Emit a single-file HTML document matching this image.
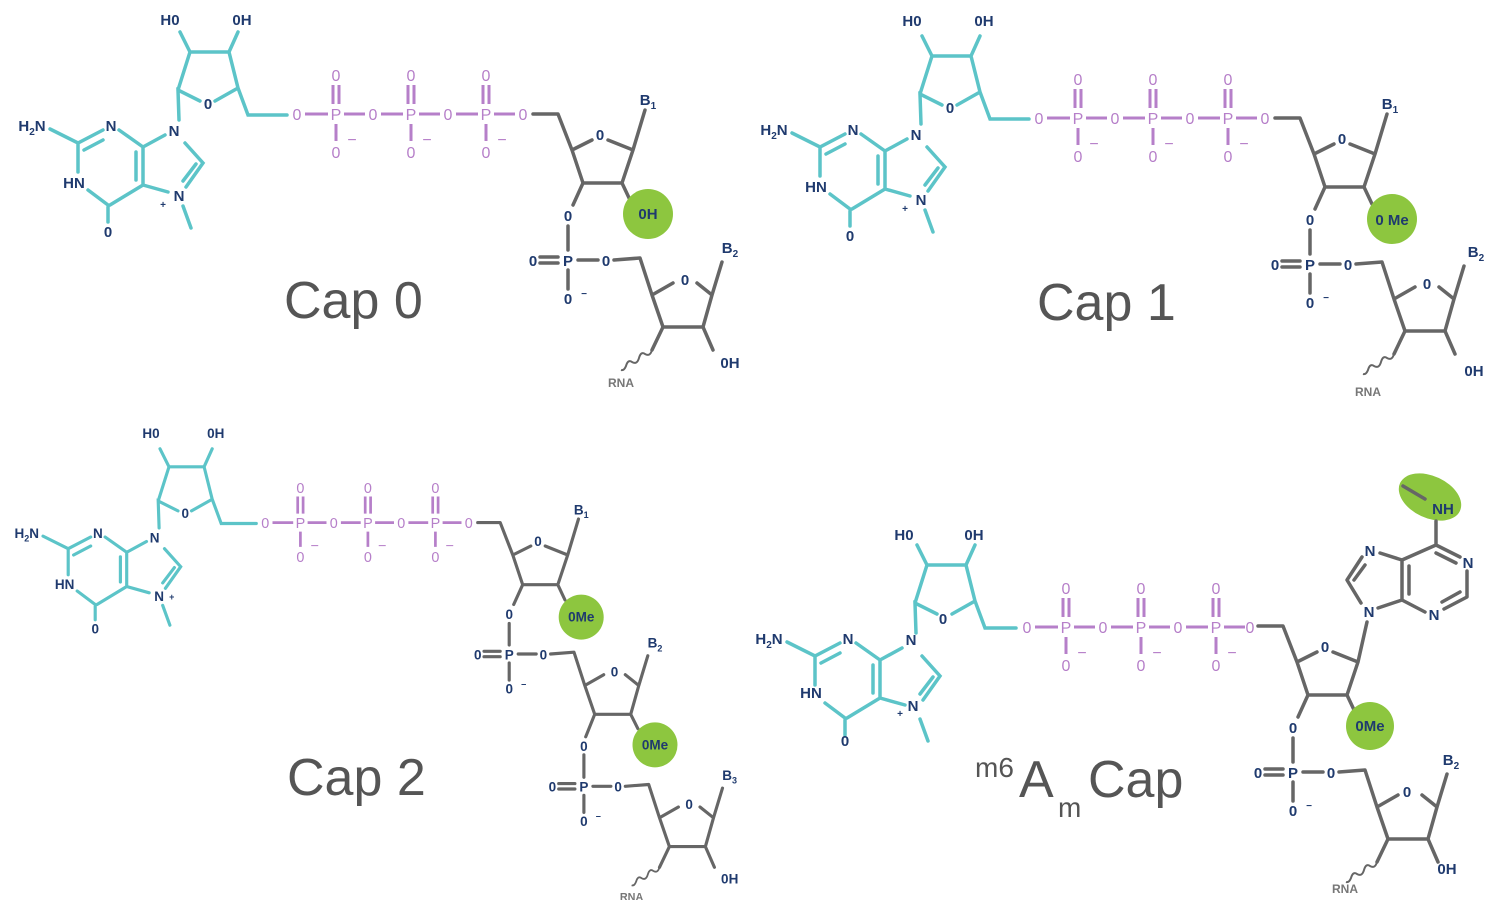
<!DOCTYPE html>
<html><head><meta charset="utf-8"><style>
html,body{margin:0;padding:0;background:#fff;}
svg{display:block;}
.t{fill:none;stroke:#5cc4c8;stroke-width:3.5;stroke-linecap:round;}
.p{fill:none;stroke:#b67fc9;stroke-width:3;stroke-linecap:butt;}
.g{fill:none;stroke:#666;stroke-width:3.5;stroke-linecap:round;stroke-linejoin:round;}
.gw{fill:none;stroke:#666;stroke-width:2;}
text{font-family:"Liberation Sans",sans-serif;font-weight:bold;text-anchor:middle;}
.n{fill:#1f3a6e;font-size:15px;}
.pl{fill:#b67fc9;font-size:16px;font-weight:normal;}
.r{fill:#777;font-size:12px;}
.big{fill:#555;font-size:52px;font-weight:normal;text-anchor:start;}
.sm{font-size:10px;}
</style></head><body>
<svg width="1500" height="900" viewBox="0 0 1500 900" xmlns="http://www.w3.org/2000/svg">

<!-- ================= CAP 0 ================= -->
<g>
<path class="t" d="M50,129 L78,143 L103,130 M84,150 L103,140 M119,130 L143,147 L165,135 M185,143 L203,163 L186,187 M196,164 L183,181 M143,147 L143,185 M136,152 L136,180 M143,185 L110,205 M108,207 L108,222 M108,205 L88,190 M78,172 L78,143 M143,185 L168,192 M183,206 L191,228 M179,120 L178,90 L200,101 M215,101 L238,88 L229,52 L190,52 L178,90 M190,52 L180,32 M229,52 L238,32 M238,88 L248,115 L287,115"/>
<text class="n" x="170" y="25">H0</text><text class="n" x="242" y="25">0H</text><text class="n" x="208" y="109">0</text>
<text class="n" x="111" y="131">N</text><text class="n" x="174" y="136">N</text><text class="n" x="74" y="188">HN</text><text class="n" x="108" y="237">0</text><text class="n" x="179" y="201">N</text><text class="n sm" x="163" y="208">+</text>
<text class="n" x="32" y="131">H<tspan class="sm" dy="4">2</tspan><tspan dy="-4">N</tspan></text>
<path class="p" d="M305,114 H328 M344,114 H365 M381,114 H403 M419,114 H440 M456,114 H478 M494,114 H515 M333,85 V104 M339,85 V104 M336,124 V141 M408,85 V104 M414,85 V104 M411,124 V141 M483,85 V104 M489,85 V104 M486,124 V141"/>
<text class="pl" x="297" y="120">0</text><text class="pl" x="336" y="120">P</text><text class="pl" x="373" y="120">0</text><text class="pl" x="411" y="120">P</text><text class="pl" x="448" y="120">0</text><text class="pl" x="486" y="120">P</text><text class="pl" x="523" y="120">0</text>
<text class="pl" x="336" y="81">0</text><text class="pl" x="411" y="81">0</text><text class="pl" x="486" y="81">0</text>
<text class="pl" x="336" y="158">0</text><text class="pl" x="411" y="158">0</text><text class="pl" x="486" y="158">0</text>
<text class="pl" x="352" y="145">−</text><text class="pl" x="427" y="145">−</text><text class="pl" x="502" y="145">−</text>
<path class="g" d="M533,114 H558 L572,150 L592,140 M608,140 L633,150 L622,183 L583,183 L572,150 M633,150 L645,110 M622,183 L630,200 M583,183 L573,205 M568,226 V250"/>
<text class="n" x="600" y="140">0</text><text class="n" x="648" y="105">B<tspan class="sm" dy="4">1</tspan></text><text class="n" x="568" y="221">0</text>
<circle cx="648" cy="214" r="25" fill="#8dc63f"/><text class="n" x="648" y="219">0H</text>
<path class="g" d="M540,257 H558 M540,263 H558 M578,260 H598 M614,260 L640,258 L652,295 L673,283 M697,283 L712,295 L703,327 L663,327 L652,295 M712,295 L722,262 M568,270 V289"/>
<text class="n" x="568" y="266">P</text><text class="n" x="533" y="266">0</text><text class="n" x="606" y="266">0</text><text class="n" x="568" y="304">0</text><text class="n sm" x="584" y="297">−</text><text class="n" x="685" y="285">0</text><text class="n" x="730" y="253">B<tspan class="sm" dy="4">2</tspan></text>
<path class="g" d="M703,327 L713,350 M663,327 L652,350"/>
<path class="gw" d="M652,350 q-2,7 -7,4 q-4,-3 -6,4 q-2,7 -7,4 q-4,-3 -6,4 q-2,5 -5,4"/>
<text class="n" x="730" y="368">0H</text><text class="r" x="621" y="387">RNA</text>
<text class="big" x="284" y="318">Cap 0</text>
</g>

<!-- ================= CAP 1 ================= -->
<g transform="translate(742,4)">
<path class="t" d="M50,129 L78,143 L103,130 M84,150 L103,140 M119,130 L143,147 L165,135 M185,143 L203,163 L186,187 M196,164 L183,181 M143,147 L143,185 M136,152 L136,180 M143,185 L110,205 M108,207 L108,222 M108,205 L88,190 M78,172 L78,143 M143,185 L168,192 M183,206 L191,228 M179,120 L178,90 L200,101 M215,101 L238,88 L229,52 L190,52 L178,90 M190,52 L180,32 M229,52 L238,32 M238,88 L248,115 L287,115"/>
<text class="n" x="170" y="22">H0</text><text class="n" x="242" y="22">0H</text><text class="n" x="208" y="109">0</text>
<text class="n" x="111" y="131">N</text><text class="n" x="174" y="136">N</text><text class="n" x="74" y="188">HN</text><text class="n" x="108" y="237">0</text><text class="n" x="179" y="201">N</text><text class="n sm" x="163" y="208">+</text>
<text class="n" x="32" y="131">H<tspan class="sm" dy="4">2</tspan><tspan dy="-4">N</tspan></text>
<path class="p" d="M305,114 H328 M344,114 H365 M381,114 H403 M419,114 H440 M456,114 H478 M494,114 H515 M333,85 V104 M339,85 V104 M336,124 V141 M408,85 V104 M414,85 V104 M411,124 V141 M483,85 V104 M489,85 V104 M486,124 V141"/>
<text class="pl" x="297" y="120">0</text><text class="pl" x="336" y="120">P</text><text class="pl" x="373" y="120">0</text><text class="pl" x="411" y="120">P</text><text class="pl" x="448" y="120">0</text><text class="pl" x="486" y="120">P</text><text class="pl" x="523" y="120">0</text>
<text class="pl" x="336" y="81">0</text><text class="pl" x="411" y="81">0</text><text class="pl" x="486" y="81">0</text>
<text class="pl" x="336" y="158">0</text><text class="pl" x="411" y="158">0</text><text class="pl" x="486" y="158">0</text>
<text class="pl" x="352" y="145">−</text><text class="pl" x="427" y="145">−</text><text class="pl" x="502" y="145">−</text>
<path class="g" d="M533,114 H558 L572,150 L592,140 M608,140 L633,150 L622,183 L583,183 L572,150 M633,150 L645,110 M622,183 L630,200 M583,183 L573,205 M568,226 V250"/>
<text class="n" x="600" y="140">0</text><text class="n" x="648" y="105">B<tspan class="sm" dy="4">1</tspan></text><text class="n" x="568" y="221">0</text>
<circle cx="650" cy="215" r="25" fill="#8dc63f"/><text class="n" x="650" y="221">0 Me</text>
<path class="g" d="M540,257 H558 M540,263 H558 M578,260 H598 M614,260 L640,258 L652,295 L673,283 M697,283 L712,295 L703,327 L663,327 L652,295 M712,295 L722,262 M568,270 V289"/>
<text class="n" x="568" y="266">P</text><text class="n" x="533" y="266">0</text><text class="n" x="606" y="266">0</text><text class="n" x="568" y="304">0</text><text class="n sm" x="584" y="297">−</text><text class="n" x="685" y="285">0</text><text class="n" x="734" y="253">B<tspan class="sm" dy="4">2</tspan></text>
<path class="g" d="M703,327 L713,350 M663,327 L652,350"/>
<path class="gw" d="M652,350 q-2,7 -7,4 q-4,-3 -6,4 q-2,7 -7,4 q-4,-3 -6,4 q-2,5 -5,4"/>
<text class="n" x="732" y="372">0H</text><text class="r" x="626" y="392">RNA</text>
</g>
<text class="big" x="1037" y="320">Cap 1</text>

<!-- ================= CAP 2 ================= -->
<g transform="translate(-2,420) scale(0.9)">
<path class="t" d="M50,129 L78,143 L103,130 M84,150 L103,140 M119,130 L143,147 L165,135 M185,143 L203,163 L186,187 M196,164 L183,181 M143,147 L143,185 M136,152 L136,180 M143,185 L110,205 M108,207 L108,222 M108,205 L88,190 M78,172 L78,143 M143,185 L168,192 M183,206 L191,228 M179,120 L178,90 L200,101 M215,101 L238,88 L229,52 L190,52 L178,90 M190,52 L180,32 M229,52 L238,32 M238,88 L248,115 L287,115"/>
<text class="n" x="170" y="20">H0</text><text class="n" x="242" y="20">0H</text><text class="n" x="208" y="109">0</text>
<text class="n" x="111" y="131">N</text><text class="n" x="174" y="136">N</text><text class="n" x="74" y="188">HN</text><text class="n" x="108" y="237">0</text><text class="n" x="179" y="201">N</text><text class="n sm" x="193" y="200">+</text>
<text class="n" x="32" y="131">H<tspan class="sm" dy="4">2</tspan><tspan dy="-4">N</tspan></text>
<path class="p" d="M305,114 H328 M344,114 H365 M381,114 H403 M419,114 H440 M456,114 H478 M494,114 H515 M333,85 V104 M339,85 V104 M336,124 V141 M408,85 V104 M414,85 V104 M411,124 V141 M483,85 V104 M489,85 V104 M486,124 V141"/>
<text class="pl" x="297" y="120">0</text><text class="pl" x="336" y="120">P</text><text class="pl" x="373" y="120">0</text><text class="pl" x="411" y="120">P</text><text class="pl" x="448" y="120">0</text><text class="pl" x="486" y="120">P</text><text class="pl" x="523" y="120">0</text>
<text class="pl" x="336" y="81">0</text><text class="pl" x="411" y="81">0</text><text class="pl" x="486" y="81">0</text>
<text class="pl" x="336" y="158">0</text><text class="pl" x="411" y="158">0</text><text class="pl" x="486" y="158">0</text>
<text class="pl" x="352" y="145">−</text><text class="pl" x="427" y="145">−</text><text class="pl" x="502" y="145">−</text>
<path class="g" d="M533,114 H558 L572,150 L592,140 M608,140 L633,150 L622,183 L583,183 L572,150 M633,150 L645,110 M622,183 L630,200 M583,183 L573,205 M568,226 V250"/>
<text class="n" x="600" y="140">0</text><text class="n" x="648" y="105">B<tspan class="sm" dy="4">1</tspan></text><text class="n" x="568" y="221">0</text>
<circle cx="648" cy="219" r="25" fill="#8dc63f"/><text class="n" x="648" y="224">0Me</text>
<path class="g" d="M540,257 H558 M540,263 H558 M578,260 H598 M614,260 L640,258 L652,295 L673,283 M697,283 L712,295 L703,327 L663,327 L652,295 M712,295 L722,262 M568,270 V289"/>
<text class="n" x="568" y="266">P</text><text class="n" x="533" y="266">0</text><text class="n" x="606" y="266">0</text><text class="n" x="568" y="304">0</text><text class="n sm" x="584" y="297">−</text><text class="n" x="685" y="285">0</text><text class="n" x="730" y="253">B<tspan class="sm" dy="4">2</tspan></text>
<path class="g" d="M703,327 L711,343 M663,327 L653,352 M651,372 V397"/>
<circle cx="730" cy="361" r="25" fill="#8dc63f"/><text class="n" x="730" y="366">0Me</text>
<text class="n" x="651" y="368">0</text>
<g transform="translate(83,147)">
<path class="g" d="M540,257 H558 M540,263 H558 M578,260 H598 M614,260 L640,258 L652,295 L673,283 M697,283 L712,295 L703,327 L663,327 L652,295 M712,295 L722,262 M568,270 V289"/>
<text class="n" x="568" y="266">P</text><text class="n" x="533" y="266">0</text><text class="n" x="606" y="266">0</text><text class="n" x="568" y="304">0</text><text class="n sm" x="584" y="297">−</text><text class="n" x="685" y="285">0</text><text class="n" x="730" y="253">B<tspan class="sm" dy="4">3</tspan></text>
<path class="g" d="M703,327 L713,350 M663,327 L652,350"/>
<path class="gw" d="M652,350 q-2,7 -7,4 q-4,-3 -6,4 q-2,7 -7,4 q-4,-3 -6,4 q-2,5 -5,4"/>
<text class="n" x="730" y="368">0H</text><text class="r" x="621" y="387">RNA</text>
</g>
</g>
<text class="big" x="287" y="795">Cap 2</text>

<!-- ================= m6Am CAP ================= -->
<g transform="translate(737,513)">
<path class="t" d="M50,129 L78,143 L103,130 M84,150 L103,140 M119,130 L143,147 L165,135 M185,143 L203,163 L186,187 M196,164 L183,181 M143,147 L143,185 M136,152 L136,180 M143,185 L110,205 M108,207 L108,222 M108,205 L88,190 M78,172 L78,143 M143,185 L168,192 M183,206 L191,228 M179,120 L178,90 L200,101 M215,101 L238,88 L229,52 L190,52 L178,90 M190,52 L180,32 M229,52 L238,32 M238,88 L248,115 L279,115"/>
<text class="n" x="167" y="27">H0</text><text class="n" x="237" y="27">0H</text><text class="n" x="206" y="111">0</text>
<text class="n" x="111" y="131">N</text><text class="n" x="174" y="132">N</text><text class="n" x="74" y="185">HN</text><text class="n" x="108" y="233">0</text><text class="n" x="176" y="198">N</text><text class="n sm" x="163" y="204">+</text>
<text class="n" x="32" y="131">H<tspan class="sm" dy="4">2</tspan><tspan dy="-4">N</tspan></text>
</g>
<g transform="translate(730,513)">
<path class="p" d="M305,114 H328 M344,114 H365 M381,114 H403 M419,114 H440 M456,114 H478 M494,114 H515 M333,85 V104 M339,85 V104 M336,124 V141 M408,85 V104 M414,85 V104 M411,124 V141 M483,85 V104 M489,85 V104 M486,124 V141"/>
<text class="pl" x="297" y="120">0</text><text class="pl" x="336" y="120">P</text><text class="pl" x="373" y="120">0</text><text class="pl" x="411" y="120">P</text><text class="pl" x="448" y="120">0</text><text class="pl" x="486" y="120">P</text><text class="pl" x="520" y="120">0</text>
<text class="pl" x="336" y="81">0</text><text class="pl" x="411" y="81">0</text><text class="pl" x="486" y="81">0</text>
<text class="pl" x="336" y="158">0</text><text class="pl" x="411" y="158">0</text><text class="pl" x="486" y="158">0</text>
<text class="pl" x="352" y="145">−</text><text class="pl" x="427" y="145">−</text><text class="pl" x="502" y="145">−</text>
</g>
<g transform="translate(725,512)">
<path class="g" d="M533,114 H558 L572,150 L592,140 M608,140 L633,150 L622,183 L583,183 L572,150 M633,150 L642,110 M622,183 L630,200 M583,183 L573,205 M568,226 V250"/>
<text class="n" x="600" y="140">0</text><text class="n" x="568" y="221">0</text>
<circle cx="645" cy="214" r="24" fill="#8dc63f"/><text class="n" x="645" y="219">0Me</text>
<path class="g" d="M540,257 H558 M540,263 H558 M578,260 H598 M614,260 L640,258 L652,295 L673,283 M697,283 L712,295 L703,327 L663,327 L652,295 M712,295 L722,262 M568,270 V289"/>
<text class="n" x="568" y="266">P</text><text class="n" x="533" y="266">0</text><text class="n" x="606" y="266">0</text><text class="n" x="568" y="304">0</text><text class="n sm" x="584" y="297">−</text><text class="n" x="682" y="285">0</text><text class="n" x="726" y="253">B<tspan class="sm" dy="4">2</tspan></text>
<path class="g" d="M703,327 L713,350 M663,327 L652,350"/>
<path class="gw" d="M652,350 q-2,7 -7,4 q-4,-3 -6,4 q-2,7 -7,4 q-4,-3 -6,4 q-2,5 -5,4"/>
<text class="n" x="722" y="362">0H</text><text class="r" x="620" y="381">RNA</text>
</g>
<!-- adenine -->
<ellipse cx="1430" cy="497" rx="33" ry="21" transform="rotate(25 1430 497)" fill="#8dc63f"/>
<path class="g" d="M1403,486 L1425,499 M1436,545 L1436,521 M1378,608 L1402,600 L1402,560 M1409,566 L1409,594 M1402,560 L1380,553 M1362,557 L1347,580 L1361,603 M1365,565 L1354,580 M1402,560 L1436,545 L1460,557 M1436,553 L1456,563 M1467,571 L1467,597 L1444,609 M1460,592 L1442,602 M1425,612 L1402,600"/>
<text class="n" x="1443" y="514">NH</text><text class="n" x="1370" y="556">N</text><text class="n" x="1468" y="568">N</text><text class="n" x="1434" y="620">N</text><text class="n" x="1369" y="617">N</text>
<text class="big" x="975" y="777" style="font-size:28px">m6</text>
<text class="big" x="1019" y="797">A</text>
<text class="big" x="1058" y="817" style="font-size:28px">m</text>
<text class="big" x="1088" y="797">Cap</text>
</svg>
</body></html>
